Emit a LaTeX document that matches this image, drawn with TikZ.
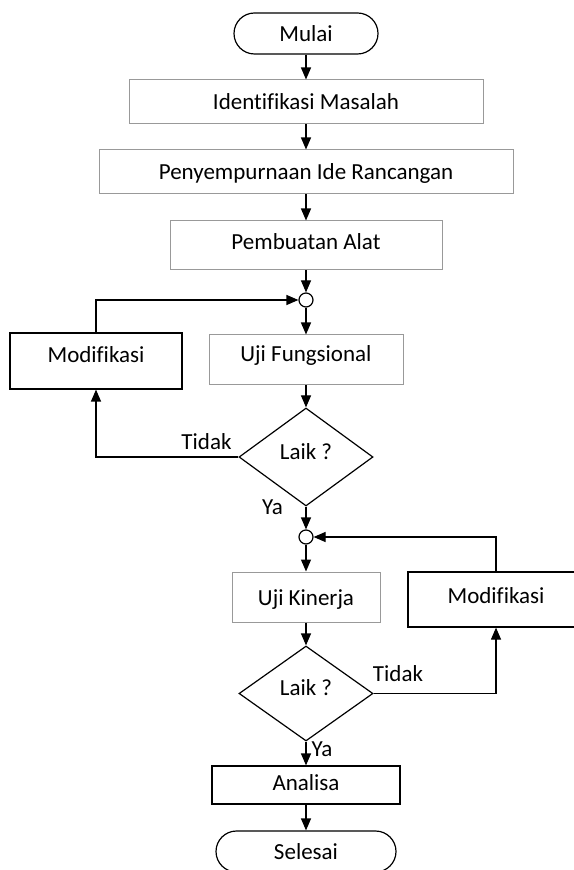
\documentclass[tikz,border=0pt]{standalone}
\usepackage{fontspec}
\setmainfont{Carlito}[Ligatures=CommonOff]
\usetikzlibrary{arrows.meta,shapes.geometric}

\begin{document}
\begin{tikzpicture}[x=0.5pt,y=-0.5pt,font=\fontsize{11.5}{13}\selectfont,
    box/.style={draw=black!40,line width=0.5pt,rectangle,text height=8pt,text depth=0pt},
    darkbox/.style={box,draw=black,line width=0.6pt},
    term/.style={draw,line width=0.6pt,rectangle,rounded corners=10.25pt,minimum width=#1,minimum height=20.5pt,text height=8pt,text depth=0pt},
    decision/.style={draw,line width=0.6pt,diamond,minimum width=67pt,minimum height=#1,text height=8pt,text depth=6pt,inner sep=1pt},
    joint/.style={draw,line width=0.6pt,circle,minimum size=7pt,inner sep=0pt},
    arr/.style={line width=0.6pt,-{Triangle[length=6pt,width=5pt]}}]

            \useasboundingbox (0,0) rectangle (573,870);

            % main column
            \node[term=72pt] (mulai) at (306,33.5) {Mulai};
            \node[box,minimum width=177pt,minimum height=22pt] (ident) at (306,102) {Identifikasi Masalah};
            \node[box,minimum width=207pt,minimum height=22pt] (ide) at (306,172) {Penyempurnaan Ide Rancangan};
            \node[box,minimum width=136pt,minimum height=24.5pt,text depth=3.5pt] (alat) at (306,245.5) {Pembuatan Alat};
            \node[joint] (j1) at (306,300) {};
            \node[box,minimum width=97pt,minimum height=25pt,text depth=6pt] (fungsi) at (306,360) {Uji Fungsional};
            \node[decision=49pt] (laik1) at (306,457) {Laik ?};
            \node[joint] (j2) at (306,537) {};
            \node[box,minimum width=74pt,minimum height=25pt] (kinerja) at (306,597) {Uji Kinerja};
            \node[decision=47.5pt] (laik2) at (306,693.5) {Laik ?};
            \node[darkbox,minimum width=94pt,minimum height=19pt,text depth=2.3pt] (analisa) at (306,785) {Analisa};
            \node[term=90pt] (selesai) at (306,851.5) {Selesai};

            % loops
            \node[darkbox,minimum width=86pt,minimum height=28pt,text depth=6pt] (modif1) at (96,361) {Modifikasi};
            \node[darkbox,minimum width=88pt,minimum height=27.5pt,text depth=4.5pt] (modif2) at (496,599.5) {Modifikasi};

            \node (tidak1) at (206.5,442) {Tidak};
            \node (ya1) at (272.5,507.5) {Ya};
            \node (tidak2) at (398,674) {Tidak};
            \node (ya2) at (322,749) {Ya};

            \draw[arr] (mulai) -- (ident);
            \draw[arr] (ident) -- (ide);
            \draw[arr] (ide) -- (alat);
            \draw[arr] (alat) -- (j1);
            \draw[arr] (j1) -- (fungsi);
            \draw[arr] (fungsi) -- (laik1);
            \draw[arr] (laik1) -- (j2);
            \draw[arr] (j2) -- (kinerja);
            \draw[arr] (kinerja) -- (laik2);
            \draw[arr] (laik2) -- (analisa);
            \draw[arr] (analisa) -- (selesai);

            \draw[arr] (laik1.west) -| (modif1.south);
            \draw[arr] (modif1.north) |- (j1.west);
            \draw[arr] (laik2.east) -| (modif2.south);
            \draw[arr] (modif2.north) |- (j2.east);

            \end{tikzpicture}
\end{document}
